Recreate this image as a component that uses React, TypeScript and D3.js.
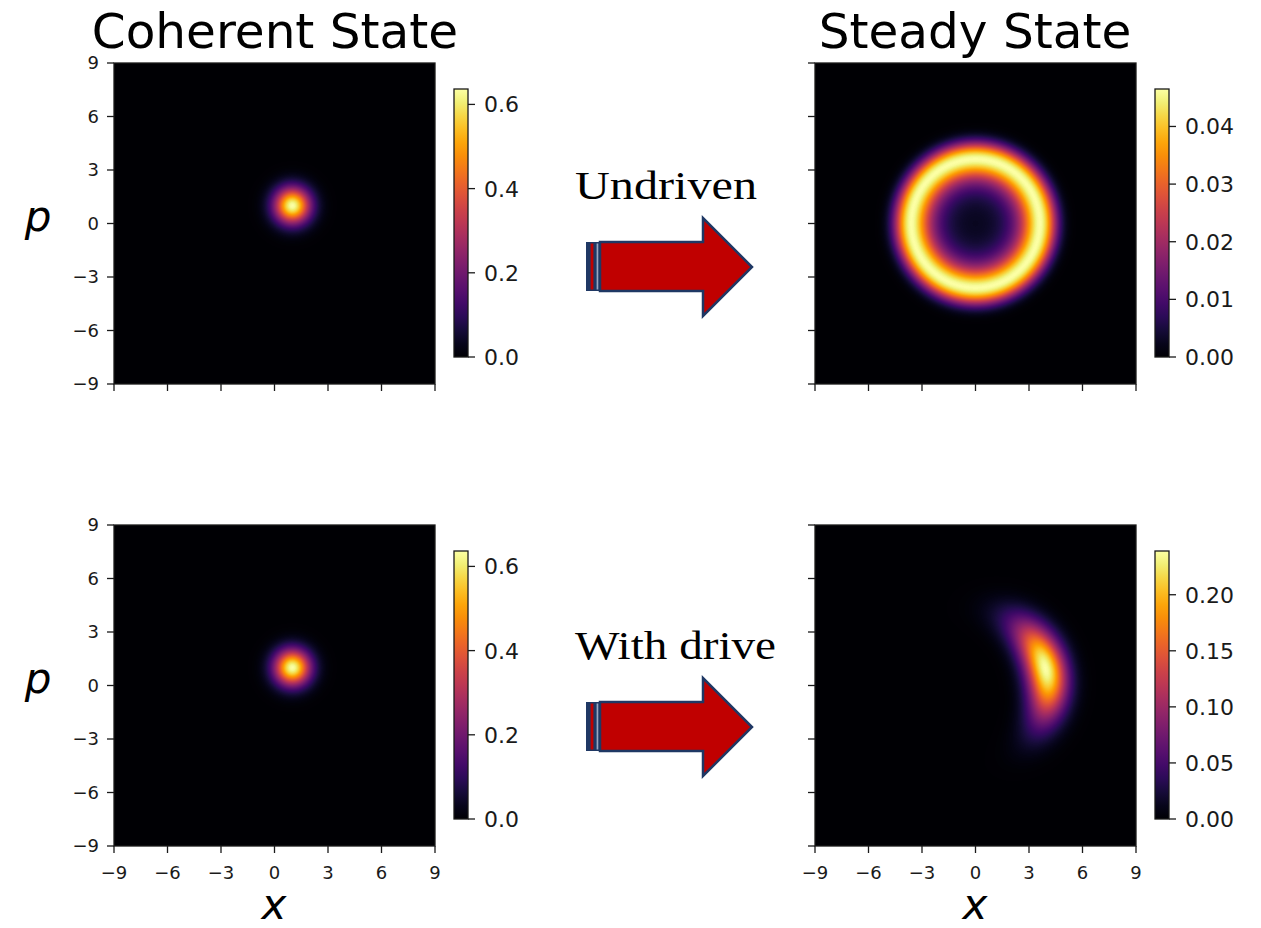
import React, { useMemo } from 'react';
import * as d3 from 'd3';

const axisTicks = [-9, -6, -3, 0, 3, 6, 9];
const titles = ['Coherent State', 'Steady State'];
const arrowLabels = ['Undriven', 'With drive'];

// colour bar range + ticks per panel (TL, TR, BL, BR)
const vmaxes = [0.6366, 0.0465, 0.6366, 0.239];
const cbarTicks = [
  [0, 0.2, 0.4, 0.6],
  [0, 0.01, 0.02, 0.03, 0.04],
  [0, 0.2, 0.4, 0.6],
  [0, 0.05, 0.1, 0.15, 0.2],
];
const cbarFormats = ['.1f', '.2f', '.1f', '.2f'];

// coherent state blob: centre (x, p)
const coherentCentre = [1, 1];
// undriven steady state ring
const ringRadius = 3.6;
const ringWidth = 5.4;
// driven steady state crescent
const crescentOrigin = [-0.3, -0.1];
const crescentRadius = 4.35;
const crescentAngle = 14; // degrees
const crescentSpread = [0.78, 0.46]; // radial, angular (rad)

type Field = (x: number, p: number) => number;

const coherent: Field = (x, p) => {
  const dx = x - coherentCentre[0];
  const dp = p - coherentCentre[1];
  return Math.exp(-(dx * dx + dp * dp));
};
const ring: Field = (x, p) => {
  const d = x * x + p * p - ringRadius * ringRadius;
  return Math.exp(-(d * d) / (2 * ringWidth * ringWidth));
};
const crescent: Field = (x, p) => {
  const dx = x - crescentOrigin[0];
  const dp = p - crescentOrigin[1];
  const r = Math.hypot(dx, dp);
  const th = Math.atan2(dp, dx) - (crescentAngle * Math.PI) / 180;
  const [sr, st] = crescentSpread;
  return Math.exp(-((r - crescentRadius) ** 2) / (2 * sr * sr) - (th * th) / (2 * st * st));
};

const W = 321;
const H = 321;
const panels = [
  { x0: 114, y0: 63, field: coherent, left: true, bottom: false },
  { x0: 815, y0: 63, field: ring, left: false, bottom: false },
  { x0: 114, y0: 525, field: coherent, left: true, bottom: true },
  { x0: 815, y0: 525, field: crescent, left: false, bottom: true },
];

const lut = d3.range(256).map(i => d3.rgb(d3.interpolateInferno(i / 255)));

function heatmap(field: Field): string {
  const canvas = document.createElement('canvas');
  canvas.width = W;
  canvas.height = H;
  const ctx = canvas.getContext('2d')!;
  const img = ctx.createImageData(W, H);
  const xs = d3.scaleLinear().domain([0, W]).range([-9, 9]);
  const ps = d3.scaleLinear().domain([0, H]).range([9, -9]);
  for (let j = 0; j < H; j++) {
    for (let i = 0; i < W; i++) {
      const v = field(xs(i + 0.5), ps(j + 0.5));
      const c = lut[Math.max(0, Math.min(255, Math.round(v * 255)))];
      const k = (j * W + i) * 4;
      img.data[k] = c.r;
      img.data[k + 1] = c.g;
      img.data[k + 2] = c.b;
      img.data[k + 3] = 255;
    }
  }
  ctx.putImageData(img, 0, 0);
  return canvas.toDataURL();
}

const font = 'DejaVu Sans';
const ink = '#1a1a1a';
const minus = (t: number) => String(t).replace('-', '\u2212');

function Panel({ idx }: { idx: number }) {
  const { x0, y0, field, left, bottom } = panels[idx];
  const href = useMemo(() => heatmap(field), [field]);
  const x = d3.scaleLinear().domain([-9, 9]).range([0, W]);
  const y = d3.scaleLinear().domain([-9, 9]).range([H, 0]);
  const cbX = 340;
  const cbTop = 26;
  const cbH = 268;
  const cb = d3.scaleLinear().domain([0, vmaxes[idx]]).range([cbTop + cbH, cbTop]);
  const fmt = d3.format(cbarFormats[idx]);
  const gid = `cb${idx}`;
  return (
    <g transform={`translate(${x0},${y0})`}>
      <image href={href} x={0} y={0} width={W} height={H} preserveAspectRatio="none" />
      <rect x={0} y={0} width={W} height={H} fill="none" stroke={ink} strokeWidth={1.3} />
      {axisTicks.map(t => (
        <g key={'y' + t}>
          <line x1={-7} x2={0} y1={y(t)} y2={y(t)} stroke={ink} strokeWidth={1.3} />
          {left && (
            <text x={-15} y={y(t)} dy="0.36em" textAnchor="end" fontFamily={font} fontSize={18} fill={ink}>
              {minus(t)}
            </text>
          )}
        </g>
      ))}
      {axisTicks.map(t => (
        <g key={'x' + t}>
          <line x1={x(t)} x2={x(t)} y1={H} y2={H + 7} stroke={ink} strokeWidth={1.3} />
          {bottom && (
            <text x={x(t)} y={H + 33} textAnchor="middle" fontFamily={font} fontSize={18} fill={ink}>
              {minus(t)}
            </text>
          )}
        </g>
      ))}
      <defs>
        <linearGradient id={gid} x1="0" y1="1" x2="0" y2="0">
          {d3.range(0, 1.0001, 0.05).map(s => (
            <stop key={s} offset={s} stopColor={d3.interpolateInferno(s)} />
          ))}
        </linearGradient>
      </defs>
      <rect x={cbX} y={cbTop} width={14} height={cbH} fill={`url(#${gid})`} stroke={ink} strokeWidth={1.3} />
      {cbarTicks[idx].map(t => (
        <g key={'c' + t}>
          <line x1={cbX + 14} x2={cbX + 21} y1={cb(t)} y2={cb(t)} stroke={ink} strokeWidth={1.3} />
          <text x={cbX + 30} y={cb(t)} dy="0.36em" fontFamily={font} fontSize={22} fill={ink}>
            {fmt(t)}
          </text>
        </g>
      ))}
    </g>
  );
}

function Arrow({ dy }: { dy: number }) {
  const navy = '#1f3864';
  const red = '#c00000';
  const pts: [number, number][] = [
    [600, 242], [703, 242], [703, 218], [752, 267], [703, 316], [703, 291], [600, 291],
  ];
  return (
    <g transform={`translate(0,${dy})`}>
      <rect x={586} y={242} width={13} height={49} fill={navy} />
      <rect x={590.6} y={243.5} width={2.8} height={46} fill={red} />
      <rect x={596.6} y={243.5} width={1.8} height={46} fill="#9aa6c0" />
      <path d={d3.line()(pts) + 'Z'} fill={red} stroke={navy} strokeWidth={2.5} strokeLinejoin="miter" />
    </g>
  );
}

export default function App() {
  return (
    <svg width={1261} height={928} style={{ position: 'absolute', left: 0, top: 0, background: '#fff' }}>
      {panels.map((_, i) => (
        <Panel key={i} idx={i} />
      ))}
      <text x={275} y={48} textAnchor="middle" fontFamily={font} fontSize={48.5} fill="#000">{titles[0]}</text>
      <text x={975} y={48} textAnchor="middle" fontFamily={font} fontSize={48.5} fill="#000">{titles[1]}</text>
      <text x={38} y={231} textAnchor="middle" fontFamily={font} fontStyle="italic" fontSize={42} fill="#000">p</text>
      <text x={38} y={693} textAnchor="middle" fontFamily={font} fontStyle="italic" fontSize={42} fill="#000">p</text>
      <text x={274} y={919} textAnchor="middle" fontFamily={font} fontStyle="italic" fontSize={42} fill="#000">x</text>
      <text x={975} y={919} textAnchor="middle" fontFamily={font} fontStyle="italic" fontSize={42} fill="#000">x</text>
      <text x={575} y={199} fontFamily="Liberation Serif" fontSize={41} textLength={182} lengthAdjust="spacingAndGlyphs" fill="#000">{arrowLabels[0]}</text>
      <text x={575} y={659} fontFamily="Liberation Serif" fontSize={41} textLength={201} lengthAdjust="spacingAndGlyphs" fill="#000">{arrowLabels[1]}</text>
      <Arrow dy={0} />
      <Arrow dy={460} />
    </svg>
  );
}
